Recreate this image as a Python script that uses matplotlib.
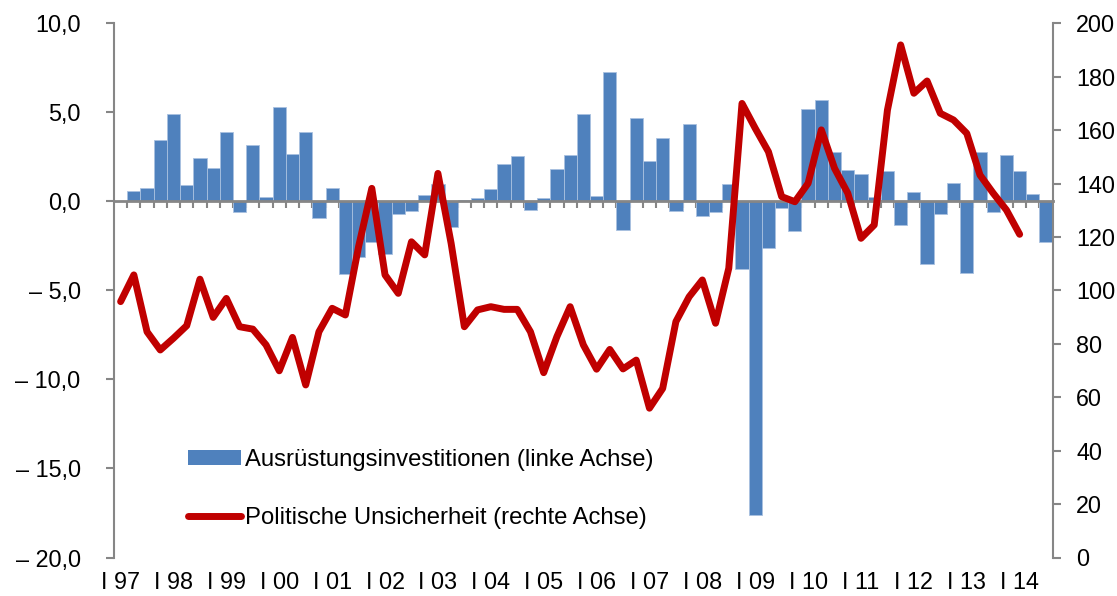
import numpy as np
import matplotlib
matplotlib.use('Agg')
import matplotlib.pyplot as plt
from matplotlib.patches import Patch
from matplotlib.lines import Line2D

plt.rcParams['font.family'] = ['Liberation Sans', 'DejaVu Sans']

# Quarterly categories 1997 Q1 .. 2014 Q3
quarters = [f"{y} Q{q}" for y in range(1997, 2015) for q in range(1, 5)][:71]

# Ausrüstungsinvestitionen (left axis, % change vs previous quarter)
invest = [0.0, 0.56, 0.75, 3.43, 4.9, 0.92, 2.43, 1.85, 3.88, -0.6,
          3.18, 0.22, 5.31, 2.67, 3.91, -0.92, 0.77, -4.1, -3.11, -2.27,
          -2.96, -0.73, -0.53, 0.35, 1.0, -1.46, 0.05, 0.19, 0.67, 2.08,
          2.53, -0.49, 0.2, 1.8, 2.62, 4.9, 0.28, 7.28, -1.6, 4.68,
          2.25, 3.56, -0.53, 4.33, -0.84, -0.6, 0.95, -3.82, -17.6, -2.64,
          -0.4, -1.65, 5.19, 5.69, 2.79, 1.76, 1.52, 0.22, 1.7, -1.35,
          0.5, -3.5, -0.73, 1.03, -4.0, 2.77, -0.6, 2.58, 1.7, 0.43,
          -2.29]

# Politische Unsicherheit (right axis), 1997 Q1 .. 2014 Q1
uncert = [95.8, 105.8, 84.5, 77.7, 82.1, 86.8, 104.2, 89.9, 97.0, 86.4,
          85.5, 79.6, 69.9, 82.4, 64.6, 84.5, 93.3, 90.8, 116.4, 138.2,
          105.8, 98.9, 118.2, 113.3, 143.8, 117.6, 86.4, 92.7, 93.9, 92.9,
          92.9, 84.5, 69.2, 82.7, 93.9, 79.6, 70.5, 77.9, 70.6, 73.9,
          55.9, 63.3, 88.3, 97.6, 103.9, 87.7, 108.3, 170.0, 160.7, 151.9,
          135.1, 133.2, 140.1, 160.1, 145.7, 136.4, 119.5, 124.5, 167.5, 191.9,
          173.8, 178.4, 166.3, 163.8, 158.8, 143.2, 136.4, 130.1, 121.0]

year_labels = ["I 97", "I 98", "I 99", "I 00", "I 01", "I 02", "I 03", "I 04", "I 05",
               "I 06", "I 07", "I 08", "I 09", "I 10", "I 11", "I 12", "I 13", "I 14"]

left_ticks = [-20, -15, -10, -5, 0, 5, 10]
left_labels = ["– 20,0", "– 15,0", "– 10,0", "– 5,0", "0,0", "5,0", "10,0"]
right_ticks = list(range(0, 201, 20))

legend_labels = ["Ausrüstungsinvestitionen (linke Achse)",
                 "Politische Unsicherheit (rechte Achse)"]

BLUE = '#4F81BD'
RED = '#C00000'
GRAY = '#868686'
FS = 16.8
LW = 5.0

fig = plt.figure(figsize=(11.17, 5.96), dpi=100)
ax = fig.add_axes([114/1117, 1-557.5/596, (1052.7-114)/1117, (557.5-23.3)/596])

x = np.arange(len(quarters))
ax.bar(x, invest, width=1.0, color=BLUE, edgecolor='#A9C1E0', linewidth=0.6, zorder=2)
ax.set_xlim(-0.5, len(quarters) - 0.5)
ax.set_ylim(-20, 10)
ax.set_yticks(left_ticks)
ax.set_yticklabels(left_labels, fontsize=FS)
ax.tick_params(axis='y', direction='out', length=6, width=1.5, color=GRAY, pad=18)

# category axis at zero
ax.spines['top'].set_visible(False)
ax.spines['bottom'].set_position(('data', 0))
ax.spines['bottom'].set_color(GRAY)
ax.spines['bottom'].set_linewidth(2)
ax.spines['bottom'].set_zorder(3)
ax.spines['left'].set_color(GRAY)
ax.spines['left'].set_linewidth(1.5)
ax.spines['right'].set_visible(False)
ax.set_xticks(np.arange(0.5, len(quarters) - 1, 1))
ax.tick_params(axis='x', direction='out', length=5, width=1.5, color=GRAY,
               labelbottom=False)

sec = ax.secondary_xaxis('bottom')
sec.set_xticks(np.arange(0, len(quarters), 4))
sec.set_xticklabels(year_labels, fontsize=FS)
sec.tick_params(length=0, pad=10)
sec.spines['bottom'].set_visible(False)

ax2 = ax.twinx()
ax2.plot(np.arange(len(uncert)), uncert, color=RED, lw=LW,
         solid_joinstyle='round', solid_capstyle='round', zorder=5)
ax2.set_ylim(0, 200)
ax2.set_yticks(right_ticks)
ax2.set_yticklabels([str(v) for v in right_ticks], fontsize=FS)
ax2.tick_params(axis='y', direction='out', length=6, width=1.5, color=GRAY, pad=11)
for s in ['top', 'bottom', 'left']:
    ax2.spines[s].set_visible(False)
ax2.spines['right'].set_color(GRAY)
ax2.spines['right'].set_linewidth(1.5)

handles = [Patch(facecolor=BLUE, edgecolor='none'),
           Line2D([], [], color=RED, lw=LW, solid_capstyle='round')]
fig.legend(handles, legend_labels, loc='upper left',
           bbox_to_anchor=(188/1117, 1-449/596), frameon=False,
           handlelength=2.2, handletextpad=0.2, labelspacing=1.5,
           handleheight=0.55,
           borderpad=0, borderaxespad=0, fontsize=17.2)

fig.savefig('out.png', dpi=100)
